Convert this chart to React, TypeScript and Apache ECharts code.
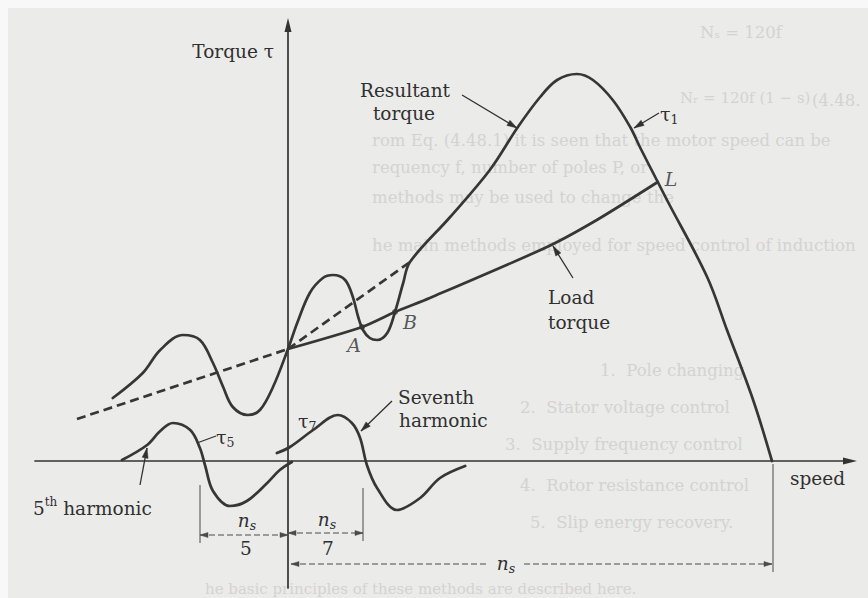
import React, { useEffect, useRef } from 'react';
import * as echarts from 'echarts';

// ---------------- data ----------------
// speed in units of synchronous speed n_s (n_s = 1), torque in arbitrary units
const resultantTorque: [number, number][] = [
  [-0.362, 0.63], [-0.300, 0.88], [-0.264, 1.11], [-0.217, 1.26], [-0.182, 1.21],
  [-0.155, 0.98], [-0.134, 0.74], [-0.114, 0.54], [-0.083, 0.46], [-0.058, 0.51],
  [-0.031, 0.74], [0, 1.12], [0.019, 1.38], [0.045, 1.68], [0.072, 1.83],
  [0.093, 1.86], [0.118, 1.81], [0.134, 1.64], [0.145, 1.44], [0.155, 1.31],
  [0.169, 1.23], [0.184, 1.21], [0.205, 1.28], [0.221, 1.49], [0.238, 1.78],
  [0.252, 1.99], [0.335, 2.44], [0.417, 2.91], [0.475, 3.34], [0.521, 3.64],
  [0.556, 3.81], [0.597, 3.87], [0.630, 3.81], [0.671, 3.61], [0.707, 3.34],
  [0.727, 3.14], [0.764, 2.79], [0.783, 2.61], [0.866, 1.84], [0.907, 1.31],
  [0.961, 0.61], [1.0, 0],
];
const loadTorque: [number, number][] = [
  [0, 1.12], [0.153, 1.34], [0.221, 1.49], [0.293, 1.63], [0.535, 2.14],
  [0.638, 2.41], [0.764, 2.79],
];
const loadTorqueExtension: [number, number][] = [[-0.436, 0.42], [0, 1.12]];
const fundamentalTrend: [number, number][] = [[0, 1.12], [0.252, 1.99]];
const fifthHarmonic: [number, number][] = [
  [-0.343, 0.01], [-0.291, 0.16], [-0.264, 0.30], [-0.238, 0.38], [-0.202, 0.31],
  [-0.182, 0.13], [-0.171, -0.05], [-0.155, -0.30], [-0.120, -0.45], [-0.085, -0.40],
  [-0.043, -0.22], [-0.017, -0.09], [0.008, -0.01],
];
const seventhHarmonic: [number, number][] = [
  [-0.023, 0.08], [0.004, 0.14], [0.052, 0.31], [0.103, 0.46], [0.132, 0.38],
  [0.149, 0.23], [0.163, -0.04], [0.184, -0.27], [0.225, -0.49], [0.273, -0.37],
  [0.314, -0.17], [0.366, -0.05],
];
const pointNames = ['A', 'B', 'L'];
const pointSpeed = [0.153, 0.221, 0.764];
const pointTorque = [1.34, 1.49, 2.79];

// faint show-through text of the scanned page
const bleedText = [
  'Nₛ = 120f',
  'Nᵣ = 120f (1 − s)',
  '(4.48.',
  'rom Eq. (4.48.1) it is seen that the motor speed can be',
  'requency f, number of poles P, or',
  'methods may be used to change the',
  'he main methods employed for speed control of induction',
  '1.  Pole changing',
  '2.  Stator voltage control',
  '3.  Supply frequency control',
  '4.  Rotor resistance control',
  '5.  Slip energy recovery.',
  'he basic principles of these methods are described here.',
];

// ---------------- layout / style ----------------
const X_MIN = -253 / 484;
const X_MAX = 562 / 484;
const Y_MIN = -1.27;
const Y_MAX = 4.36;
const INK = '#303030';
const CURVE = '#363636';
const SERIF = '"DejaVu Serif", "Liberation Serif", serif';
const FS = 18.5;

const bleedPos: [number, number][] = [
  [700, 32], [680, 98], [812, 100], [372, 140], [372, 167], [372, 197], [372, 245],
  [600, 370], [520, 407], [505, 444], [520, 485], [530, 522], [205, 589],
];

function txt(t: string, x: number, y: number, align = 'left', extra: any = {}) {
  return {
    type: 'text', x, y, z: 20,
    style: { text: t, fill: INK, fontFamily: SERIF, fontSize: FS, align, verticalAlign: 'middle', ...extra },
  };
}
const richStyles = {
  t: { fontFamily: SERIF, fontSize: 19, lineHeight: 24, fill: INK },
  s: { fontFamily: SERIF, fontSize: 12.5, lineHeight: 12, verticalAlign: 'bottom', fill: INK },
  n: { fontFamily: SERIF, fontSize: FS, fontStyle: 'italic', lineHeight: 24, fill: INK },
  si: { fontFamily: SERIF, fontSize: 12.5, fontStyle: 'italic', lineHeight: 12, verticalAlign: 'bottom', fill: INK },
  a: { fontFamily: SERIF, fontSize: FS, lineHeight: 24, fill: INK },
  p: { fontFamily: SERIF, fontSize: 12, lineHeight: 12, verticalAlign: 'top', fill: INK },
};
function rich(t: string, x: number, y: number, align = 'left') {
  return {
    type: 'text', x, y, z: 20,
    style: { text: t, fill: INK, fontFamily: SERIF, fontSize: FS, align, verticalAlign: 'middle', rich: richStyles },
  };
}
function seg(x1: number, y1: number, x2: number, y2: number, width = 1.3, color = INK, dash?: number[]) {
  return {
    type: 'line', z: 15,
    shape: { x1, y1, x2, y2 },
    style: { stroke: color, lineWidth: width, lineDash: dash || null, fill: null },
  };
}
function head(x1: number, y1: number, x2: number, y2: number, len = 10, w = 6, color = INK) {
  const dx = x2 - x1, dy = y2 - y1;
  const d = Math.hypot(dx, dy);
  const ux = dx / d, uy = dy / d;
  const bx = x2 - ux * len, by = y2 - uy * len;
  const nx = -uy, ny = ux;
  return {
    type: 'polygon', z: 16,
    shape: { points: [[x2, y2], [bx + nx * w / 2, by + ny * w / 2], [bx - nx * w / 2, by - ny * w / 2]] },
    style: { fill: color, stroke: color, lineWidth: 0.5 },
  };
}
function arrow(x1: number, y1: number, x2: number, y2: number, width = 1.3) {
  return [seg(x1, y1, x2, y2, width), head(x1, y1, x2, y2)];
}
function dimLine(xa: number, xb: number, y: number) {
  const c = '#4a4a4a';
  return [
    seg(xa, y, xb, y, 1, c, [6, 3]),
    head(xb, y, xa, y, 8, 5, c),
    head(xa, y, xb, y, 8, 5, c),
  ];
}

const pointLabel: Record<string, any> = {
  A: { position: 'bottom', offset: [-8, 0] },
  B: { position: 'right', offset: [0, 10] },
  L: { position: 'right', offset: [2, -3] },
};

function buildOption() {
  const elements: any[] = [
    { type: 'rect', z: -20, shape: { x: 0, y: 0, width: 868, height: 8 }, style: { fill: '#f8f8f8' } },
    { type: 'rect', z: -20, shape: { x: 0, y: 0, width: 8, height: 598 }, style: { fill: '#f8f8f8' } },
  ];
  bleedText.forEach((t, i) => {
    elements.push({
      type: 'text', x: bleedPos[i][0], y: bleedPos[i][1], z: -10,
      style: {
        text: t, fill: '#d3d3d2', fontFamily: SERIF,
        fontSize: i === 1 || i === bleedText.length - 1 ? 15 : 16.5,
        align: 'left', verticalAlign: 'middle',
      },
    });
  });
  elements.push(
    txt('Torque τ', 274, 51, 'right'),
    txt('Resultant', 405, 90, 'center'),
    txt('torque', 404, 113, 'center'),
    rich('{t|τ}{s|1}', 660, 114),
    txt('Load', 548, 297),
    txt('torque', 548, 322),
    txt('Seventh', 398, 397),
    txt('harmonic', 399, 420),
    rich('{t|τ}{s|7}', 298, 421),
    rich('{t|τ}{s|5}', 216, 437),
    rich('{a|5}{p|th}{a| harmonic}', 33, 508),
    rich('{n|n}{si|s}', 247, 520, 'center'),
    txt('5', 246, 548, 'center'),
    rich('{n|n}{si|s}', 327, 519, 'center'),
    txt('7', 328, 548, 'center'),
    rich('{n|n}{si|s}', 506, 563, 'center'),
    txt('speed', 790, 478),
    ...arrow(462, 95, 517, 128),
    ...arrow(659, 113, 634, 128),
    ...arrow(573, 278, 553, 246),
    ...arrow(392, 401, 361, 431),
    ...arrow(140, 485, 147, 448),
    seg(197, 443, 216, 436),
    seg(200, 485, 200, 543, 1, '#4a4a4a'),
    seg(363, 488, 363, 541, 1, '#4a4a4a'),
    seg(773, 464, 773, 572, 1, '#4a4a4a'),
    ...dimLine(200, 288, 535),
    ...dimLine(288, 363, 533),
    seg(291, 564, 488, 564, 1, '#4a4a4a', [6, 3]),
    seg(524, 564, 772, 564, 1, '#4a4a4a', [6, 3]),
    head(488, 564, 291, 564, 8, 5, '#4a4a4a'),
    head(524, 564, 772, 564, 8, 5, '#4a4a4a'),
  );

  const lineBase: any = {
    type: 'line', showSymbol: false, symbol: 'none', silent: true, smooth: 0.35, z: 3,
    lineStyle: { color: CURVE, width: 2.7, join: 'round', cap: 'round' },
  };
  const dashStyle = { color: CURVE, width: 2.7, type: [9, 5], cap: 'butt' };

  return {
    animation: false,
    backgroundColor: '#ebebea',
    grid: { left: 35, right: 18, top: 25, bottom: 10, containLabel: false },
    xAxis: {
      type: 'value', min: X_MIN, max: X_MAX,
      axisLine: { show: true, onZero: true, symbol: ['none', 'triangle'], symbolSize: [7, 14], lineStyle: { color: '#333', width: 1.7 } },
      axisTick: { show: false }, axisLabel: { show: false }, splitLine: { show: false },
    },
    yAxis: {
      type: 'value', min: Y_MIN, max: Y_MAX,
      axisLine: { show: true, onZero: true, symbol: ['none', 'triangle'], symbolSize: [7, 14], lineStyle: { color: '#333', width: 1.7 } },
      axisTick: { show: false }, axisLabel: { show: false }, splitLine: { show: false },
    },
    series: [
      { ...lineBase, name: 'Resultant torque', data: resultantTorque },
      { ...lineBase, name: 'Load torque', data: loadTorque, smooth: 0.25 },
      { ...lineBase, name: 'Load torque extension', data: loadTorqueExtension, smooth: false, lineStyle: dashStyle },
      { ...lineBase, name: 'Fundamental', data: fundamentalTrend, smooth: false, lineStyle: dashStyle },
      { ...lineBase, name: 'Fifth harmonic', data: fifthHarmonic },
      { ...lineBase, name: 'Seventh harmonic', data: seventhHarmonic },
      {
        type: 'scatter', silent: true, z: 5,
        itemStyle: { color: CURVE },
        data: pointNames.map((n, i) => ({
          name: n,
          value: [pointSpeed[i], pointTorque[i]],
          symbolSize: n === 'L' ? 0 : 6,
          label: pointLabel[n],
        })),
        label: {
          show: true, formatter: '{b}', color: INK, fontFamily: SERIF, fontStyle: 'italic',
          fontSize: 19, textBorderWidth: 0, distance: 5,
        },
      },
    ],
    graphic: { elements },
  };
}

export default function App() {
  const ref = useRef<HTMLDivElement>(null);
  useEffect(() => {
    document.body.style.margin = '0';
    const chart = echarts.init(ref.current as HTMLDivElement, undefined, { renderer: 'svg' });
    chart.setOption(buildOption() as any);
    return () => chart.dispose();
  }, []);
  return <div ref={ref} style={{ position: 'absolute', left: 0, top: 0, width: 868, height: 598 }} />;
}
